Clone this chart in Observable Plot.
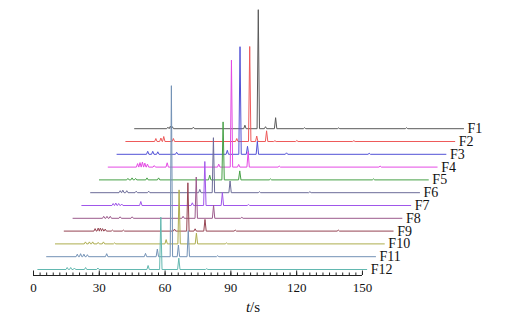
<!DOCTYPE html>
<html><head><meta charset="utf-8">
<script src="https://cdn.jsdelivr.net/npm/d3@7"></script>
<script src="https://cdn.jsdelivr.net/npm/@observablehq/plot@0.6"></script>
<style>
body{margin:0;background:#fff;}
#wrap{width:508px;}
#cap{position:relative;height:23px;width:508px;font-family:"Liberation Serif","Times New Roman",serif;font-size:15px;color:#111;}
#cap span{position:absolute;left:253px;top:1px;transform:translateX(-50%);line-height:16px;white-space:nowrap;}
</style></head><body><div id="wrap"></div>
<script>
// Sample names and colours
const names = ["F1","F2","F3","F4","F5","F6","F7","F8","F9","F10","F11","F12"];
const colors = ["#5a5a5a","#ee5a5a","#5252d6","#e44ae4","#45a045","#6c6c98","#a057ea","#9c5a8c","#964452","#adad4e","#7392b6","#62b8b0"];

// Peaks per sample: [retention time (s), intensity]
const F1  = [[15.2,1.5],[16.3,2.5],[17.2,2],[26.8,1.5],[50.3,3.5],[56.4,119],[59.7,2],[64.3,11],[77.5,1],[93,0.8],[124,1]];
const F2  = [[13.7,3],[16,3.5],[17.3,5],[21.7,3],[50.6,3],[56.5,95],[59.7,5.5],[64.2,10.7],[68,0.8],[78,1],[104,0.8]];
const F3  = [[14,3],[16.3,3],[18.6,2.5],[27.2,2],[50.3,4],[56.1,107.6],[59.5,8],[64,13],[77.3,1.5],[115,1]];
const F4  = [[13.4,3.5],[14.5,4.5],[15.6,5],[16.7,4],[17.9,3],[21,1.5],[26.9,4.3],[50.4,3],[56.2,107],[59.5,2.7],[63.8,15.3],[78,1],[124,1]];
const F5  = [[13,1.5],[14.9,2],[16.5,1.5],[21.7,2],[27,2],[50.3,4.7],[56.4,58],[64,9],[78,1],[125,1]];
const F6  = [[13.5,2],[14.7,2.5],[16.5,2],[20.8,1.5],[26.5,1.5],[49.8,3.3],[56,55],[63.6,11.7],[77,1],[100,1]];
const F7  = [[14.3,2],[15.5,2.5],[16.8,2],[18.2,1.5],[26.9,4],[50.4,2.7],[56.1,44],[64.1,13],[76,1]];
const F8  = [[14,2],[15.5,2],[17,2],[21.5,1.5],[27,1.5],[50.2,2],[56.2,41.3],[64.1,13],[77,1]];
const F9  = [[14.1,2.5],[15.5,3],[16.5,3],[17.5,2.5],[18.7,2],[22,1],[27,1],[50.3,2],[56.4,48.3],[59.7,2.3],[64.2,11.7],[78,1],[125,1]];
const F10 = [[13.7,2],[15.5,2],[17,2],[19.5,1.5],[21.9,2],[27,1],[50.5,4.3],[56.4,54],[64.3,10.7],[78,1]];
const F11 = [[14,2.5],[15.5,3],[17,2.5],[18.6,2],[27.4,3],[45.1,3.3],[50.5,7.7],[56.9,171],[60.1,11.7],[64.6,26],[78,1]];
const F12 = [[13.4,2],[15,2],[16.7,1.5],[21.8,2],[27.4,1.5],[50.3,4],[56.1,52.3],[64.3,11.3],[77,0.8]];
const peaks = [F1,F2,F3,F4,F5,F6,F7,F8,F9,F10,F11,F12];

// Axis
const tickLabels = [0,30,60,90,120,150];
const minorStep = 3;
const runLength = 150;

// Layout of the stacked (waterfall) offsets
const dx0 = 1.96, dxStep = 4.013, dyStep = 12.8, halfWidth = 0.55, axisY = -6;

const rows = [], labels = [];
names.forEach((name, i) => {
  const j = names.length - 1 - i;
  const ox = dx0 + j * dxStep, oy = j * dyStep;
  const pts = [[0, 0]];
  peaks[i].slice().sort((a, b) => a[0] - b[0]).forEach(([t, h]) => {
    pts.push([t - halfWidth, 0], [t, h], [t + halfWidth, 0]);
  });
  pts.push([runLength, 0]);
  pts.forEach(([t, h]) => rows.push({name, X: t + ox, Y: h + oy}));
  labels.push({name, X: runLength + ox, Y: oy});
});
const minor = d3.range(0, runLength + 0.001, minorStep);

const chart = Plot.plot({
  width: 508, height: 298,
  marginLeft: 33, marginRight: 0, marginTop: 0, marginBottom: 23,
  x: {domain: [0, 216.6], axis: null},
  y: {domain: [axisY, 269], axis: null},
  color: {domain: names, range: colors},
  style: {fontFamily: "'Liberation Serif','Times New Roman',serif", background: "white", overflow: "visible"},
  marks: [
    Plot.line(rows, {x: "X", y: "Y", z: "name", stroke: "name", strokeWidth: 1}),
    Plot.ruleY([axisY], {x1: 0, x2: runLength, stroke: "#222", strokeWidth: 1}),
    Plot.ruleX(minor, {x: d => d, y1: axisY, y2: axisY + 2.5, stroke: "#222"}),
    Plot.ruleX(tickLabels, {x: d => d, y1: axisY, y2: axisY + 4.5, stroke: "#222"}),
    Plot.text(tickLabels, {x: d => d, y: axisY, dy: 12, text: d => String(d), fontSize: 13, fill: "#111"}),
    Plot.text(labels, {x: "X", y: "Y", text: "name", textAnchor: "start", dx: 4, fontSize: 14, fill: "#111"})
  ]
});
const wrap = document.getElementById("wrap");
wrap.appendChild(chart);
const cap = document.createElement("div");
cap.id = "cap";
cap.innerHTML = "<span><i>t</i>/s</span>";
wrap.appendChild(cap);
</script></body></html>
